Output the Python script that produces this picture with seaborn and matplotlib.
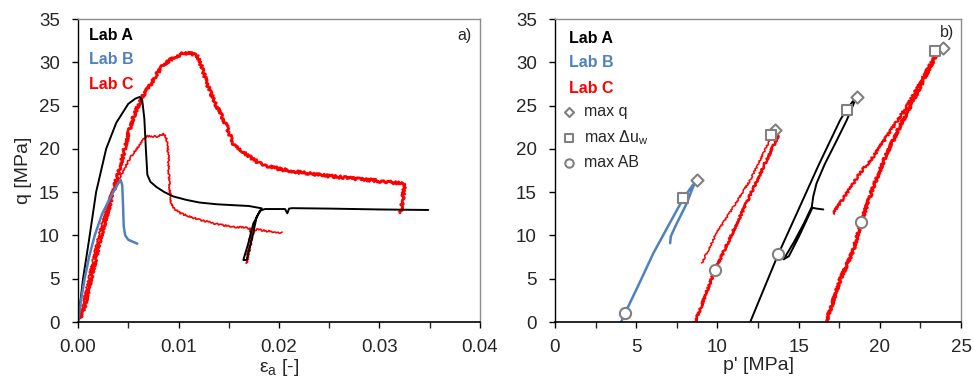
import numpy as np
import pandas as pd
import matplotlib
matplotlib.use("Agg")
import matplotlib.pyplot as plt
import seaborn as sns

# ==========================================
# Data
# ==========================================
# a) q vs axial strain
lab_a_eps = [0, 0.0005, 0.0011, 0.0018, 0.0028, 0.0038, 0.005, 0.0057, 0.00615, 0.0064, 0.0066,
             0.00675, 0.0069, 0.0072, 0.0078, 0.0086, 0.0095, 0.0108, 0.0121, 0.0138, 0.0154,
             0.017, 0.01828, 0.01745, 0.01695, 0.01645, 0.01678, 0.01728, 0.01778, 0.01811, 0.0186,
             0.0195, 0.0206, 0.02083, 0.0210, 0.0213, 0.025, 0.030, 0.03486]
lab_a_q = [0, 5.0, 9.5, 15.0, 20.0, 23.0, 25.2, 25.8, 26.0, 25.5, 23.5,
           20.0, 17.0, 16.2, 15.6, 15.0, 14.5, 14.1, 13.8, 13.6, 13.5,
           13.4, 13.13, 11.4, 9.1, 7.16, 7.16, 9.47, 12.16, 12.86, 13.05,
           13.05, 13.05, 12.55, 13.1, 13.15, 13.1, 13.0, 12.94]

lab_b_eps = [0, 0.0003, 0.00066, 0.0011, 0.00166, 0.0024, 0.0035, 0.004, 0.00425, 0.0044,
             0.00448, 0.00455, 0.0047, 0.005, 0.0059]
lab_b_q = [0, 2.5, 5.0, 7.5, 10.0, 12.5, 15.0, 16.0, 16.4, 15.8,
           13.5, 11.0, 10.0, 9.5, 9.05]

lab_c1_eps = [0.0002, 0.0005, 0.0008, 0.0012, 0.0017, 0.0022, 0.0027, 0.0032, 0.0037, 0.0042,
              0.0047, 0.0051, 0.0056, 0.0061, 0.0066, 0.0071, 0.0078, 0.0085, 0.0092, 0.0098,
              0.0106, 0.0112, 0.0118, 0.0121, 0.0125, 0.0128, 0.0133, 0.0138, 0.0143, 0.0148,
              0.0154, 0.0159, 0.0164, 0.0172, 0.0181, 0.0192, 0.0204, 0.022, 0.0238, 0.0255,
              0.0271, 0.029, 0.0304, 0.0315, 0.0324, 0.03245, 0.0323, 0.0321]
lab_c1_q = [0.5, 1.2, 2.5, 4.5, 7.0, 9.5, 11.7, 13.7, 15.9, 18.0,
            20.3, 22.2, 23.9, 25.3, 26.4, 27.2, 28.6, 29.7, 30.3, 30.7,
            31.1, 31.0, 30.8, 30.1, 28.8, 27.6, 26.2, 24.9, 23.8, 22.6,
            20.7, 20.0, 19.7, 19.0, 18.3, 17.9, 17.6, 17.3, 17.0, 16.8,
            16.6, 16.4, 16.2, 16.1, 16.0, 15.5, 14.0, 12.6]

lab_c2_eps = [0.0001, 0.0003, 0.0007, 0.0012, 0.0017, 0.0022, 0.0027, 0.0032, 0.0038, 0.0042,
              0.005, 0.0055, 0.0062, 0.0068, 0.0078, 0.0085, 0.0088, 0.0089, 0.009, 0.00905,
              0.0091, 0.0093, 0.0097, 0.0101, 0.011, 0.0121, 0.0138, 0.0154, 0.0166, 0.0172,
              0.0170, 0.01677, 0.0171, 0.01745, 0.0178, 0.0188, 0.0196, 0.0203]
lab_c2_q = [0.3, 1.0, 3.2, 5.7, 8.3, 10.7, 12.7, 14.5, 15.8, 16.8,
            18.6, 19.5, 20.6, 21.5, 21.4, 21.7, 21.3, 20.5, 19.0, 17.0,
            15.5, 13.5, 13.0, 12.6, 12.2, 11.8, 11.3, 11.0, 10.9, 10.8,
            9.0, 6.8, 8.5, 10.4, 10.7, 10.5, 10.4, 10.3]

# b) q vs mean effective stress
lab_a_p = [12.02, 12.9, 13.75, 14.9, 16.2, 17.55, 17.92, 18.3, 18.59,
           18.5, 17.96, 17.3, 16.6, 16.1, 15.9, 15.81,
           15.3, 14.7, 14.08, 14.4, 15.0, 15.5, 15.85, 16.1, 16.52]
lab_a_pq = [0, 4.0, 7.85, 12.6, 18.0, 23.3, 24.45, 25.4, 26.0,
            25.7, 23.3, 20.8, 18.2, 16.0, 14.5, 13.3,
            11.3, 9.2, 7.24, 7.6, 9.8, 11.8, 13.2, 13.1, 13.0]

lab_b_p = [4.07, 4.31, 5.2, 6.06, 7.0, 7.91, 8.4, 8.73, 8.5, 8.11, 7.66, 7.5, 7.13, 7.09]
lab_b_pq = [0, 1.0, 4.5, 7.96, 11.2, 14.3, 15.6, 16.4, 15.6, 13.7, 12.0, 11.4, 9.9, 9.1]

lab_c1_p_load = [16.73, 17.55, 18.37, 18.84, 19.6, 20.42, 21.24, 22.06, 22.89, 23.5, 23.75]
lab_c1_q_load = [0.2, 4.85, 8.3, 11.5, 15.6, 19.5, 22.6, 25.6, 28.7, 31.0, 31.4]
lab_c1_p_post = [23.4, 22.48, 21.66, 20.42, 19.6, 18.78, 18.37, 17.14]
lab_c1_q_post = [30.8, 27.6, 24.9, 21.4, 19.1, 17.2, 16.0, 12.56]

lab_c2_p_load = [8.63, 9.0, 9.4, 9.86, 10.6, 11.35, 12.1, 12.85, 13.3, 13.76]
lab_c2_q_load = [0, 1.8, 3.8, 6.0, 9.0, 12.0, 15.0, 18.0, 19.8, 21.6]
lab_c2_p_post = [13.25, 12.84, 12.02, 10.99, 9.96, 9.04]
lab_c2_q_post = [21.2, 19.5, 16.4, 13.3, 10.3, 6.8]

# characteristic points
max_q_p = [8.73, 13.56, 18.62, 23.87]
max_q_q = [16.4, 22.2, 26.0, 31.6]
max_uw_p = [7.91, 13.29, 17.96, 23.4]
max_uw_q = [14.3, 21.65, 24.5, 31.3]
max_ab_p = [4.29, 9.86, 13.72, 18.84]
max_ab_q = [1.04, 6.0, 7.85, 11.5]

BLACK = "#000000"
BLUE = "#4F81BD"
RED = "#FF0000"
GRAY = "#808080"

# ==========================================
# Style
# ==========================================
sns.set_style("ticks")
plt.rcParams["font.family"] = ["Liberation Sans", "DejaVu Sans"]
plt.rcParams["mathtext.fontset"] = "custom"
plt.rcParams["mathtext.rm"] = "Liberation Sans"
plt.rcParams["mathtext.it"] = "Liberation Sans"

fig = plt.figure(figsize=(9.74, 3.8), dpi=100)
ax1 = fig.add_axes([0.0801, 0.1526, 0.4127, 0.7974])
ax2 = fig.add_axes([0.5698, 0.1526, 0.4169, 0.7974])


def line(ax, x, y, color, lw, rough=None):
    sns.lineplot(x=x, y=y, sort=False, estimator=None, color=color, linewidth=lw, ax=ax)
    ln = ax.lines[-1]
    if rough is not None:
        # measured signal looks jittery -> draw the trace with a sketchy stroke
        ln.set_sketch_params(*rough)
    return ln


# --- a) ---
line(ax1, lab_c1_eps, lab_c1_q, RED, 2.0, rough=(1.4, 3, 3))
line(ax1, lab_c2_eps, lab_c2_q, RED, 1.2, rough=(0.8, 3, 3))
line(ax1, lab_a_eps, lab_a_q, BLACK, 1.4)
line(ax1, lab_b_eps, lab_b_q, BLUE, 1.8)

# --- b) ---
line(ax2, lab_b_p, lab_b_pq, BLUE, 1.8)
line(ax2, lab_c2_p_load, lab_c2_q_load, RED, 1.8, rough=(1.0, 3, 3))
line(ax2, lab_c2_p_post, lab_c2_q_post, RED, 1.1, rough=(0.8, 3, 3))
line(ax2, lab_a_p, lab_a_pq, BLACK, 1.4)
line(ax2, lab_c1_p_load, lab_c1_q_load, RED, 2.2, rough=(1.2, 3, 3))
line(ax2, lab_c1_p_post, lab_c1_q_post, RED, 1.6, rough=(1.2, 3, 3))

mk = dict(color="white", edgecolor=GRAY, linewidth=1.5, zorder=5, ax=ax2)
sns.scatterplot(x=max_q_p, y=max_q_q, marker="D", s=38, label="max q", **mk)
sns.scatterplot(x=max_uw_p, y=max_uw_q, marker="s", s=55, label=r"max Δu$_\mathregular{w}$", **mk)
sns.scatterplot(x=max_ab_p, y=max_ab_q, marker="o", s=65, label="max AB", **mk)

leg = ax2.legend(loc="upper left", bbox_to_anchor=(0.0, 0.74), frameon=False,
                 fontsize=11.5, handletextpad=0.4, handlelength=1.0, labelspacing=0.55,
                 markerscale=0.75, borderaxespad=0)

# axes formatting
for ax in (ax1, ax2):
    ax.set_ylim(0, 35)
    ax.set_yticks(np.arange(0, 36, 5))
    ax.tick_params(axis="both", labelsize=13.5, direction="out", color=BLACK)
    ax.tick_params(axis="x", which="both", length=4, width=1, pad=8)
    ax.tick_params(axis="y", length=4, width=1, pad=9)
    ax.spines["left"].set_color(BLACK)
    ax.spines["bottom"].set_color(BLACK)
    ax.spines["left"].set_linewidth(1.0)
    ax.spines["bottom"].set_linewidth(1.2)
    for s in ("top", "right"):
        ax.spines[s].set_visible(True)
        ax.spines[s].set_color("#8c8c8c")
        ax.spines[s].set_linewidth(1.0)
    ax.set_xlabel("")
    ax.set_ylabel("")

ax1.set_xlim(0, 0.04)
ax1.set_xticks(np.arange(0, 0.041, 0.01))
ax1.set_xticks(np.arange(0.005, 0.04, 0.01), minor=True)
ax1.set_xticklabels([f"{v:.2f}" for v in np.arange(0, 0.041, 0.01)])
ax1.set_xlabel(r"ε$_\mathregular{a}$ [-]", fontsize=14, labelpad=1)
ax1.set_ylabel("q [MPa]", fontsize=14, labelpad=5)

ax2.set_xlim(0, 25)
ax2.set_xticks(np.arange(0, 26, 5))
ax2.set_xticks(np.arange(2.5, 25, 5), minor=True)
ax2.set_xlabel("p' [MPa]", fontsize=14, labelpad=1)

# lab labels and panel tags
for ax, x0, ys in ((ax1, 0.027, (0.947, 0.865, 0.785)), (ax2, 0.034, (0.937, 0.855, 0.772))):
    for name, col, yy in zip(("Lab A", "Lab B", "Lab C"), (BLACK, BLUE, RED), ys):
        ax.text(x0, yy, name, color=col, fontsize=11.5, fontweight="bold",
                ha="left", va="center", transform=ax.transAxes)
ax1.text(0.98, 0.947, "a)", fontsize=11.5, ha="right", va="center", transform=ax1.transAxes)
ax2.text(0.983, 0.957, "b)", fontsize=11.5, ha="right", va="center", transform=ax2.transAxes)

fig.savefig("out.png", dpi=100)
